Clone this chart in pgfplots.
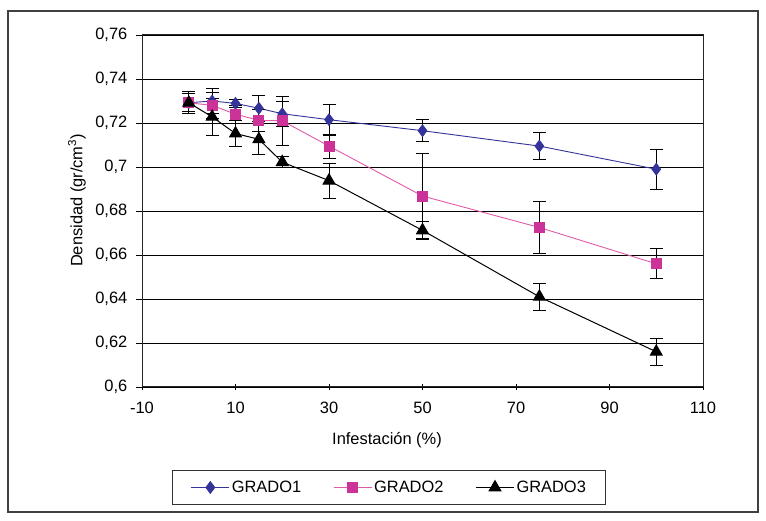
\documentclass[border=0pt]{standalone}
\usepackage{fontspec}
\setmainfont{Liberation Sans}
\usepackage{pgfplots}
\usepackage{pgfplotstable}
\pgfplotsset{compat=1.18}

\definecolor{gradoA}{HTML}{333399}
\definecolor{gradoB}{HTML}{CC3399}
\definecolor{gradoBline}{HTML}{E05AA8}

% x, densidad, desviacion
\pgfplotstableread{
x y e
0   0.7292 0.005
5   0.7300 0.0056
10  0.7289 0.002
15  0.7267 0.006
20  0.7242 0.0057
30  0.7215 0.007
50  0.7165 0.005
75  0.7095 0.006
100 0.6990 0.009
}\gradoone
\pgfplotstableread{
x y e
0   0.7292 0.004
5   0.7280 0.006
10  0.7240 0.004
15  0.7212 0.005
20  0.7210 0.011
30  0.7095 0.0055
50  0.6868 0.0195
75  0.6725 0.012
100 0.6560 0.0068
}\gradotwo
\pgfplotstableread{
x y e
0   0.7292 0.005
5   0.7228 0.0085
10  0.7152 0.006
15  0.7126 0.007
20  0.7022 0.0025
30  0.6938 0.008
50  0.6712 0.004
75  0.6410 0.0062
100 0.6160 0.006
}\gradothree

\begin{document}
\fontsize{16.5}{19}\selectfont
\begin{tikzpicture}[x=1bp,y=1bp]
\useasboundingbox (0,0) rectangle (766,521);
\draw[line width=1.3bp, black!75] (8,9) rectangle (758,510);
\begin{axis}[
    at={(142bp,134bp)}, anchor=south west,
    scale only axis, width=561bp, height=352bp,
    xmin=-10, xmax=110, ymin=0.6, ymax=0.76,
    xtick={-10,10,30,50,70,90,110},
    xticklabels={-10,10,30,50,70,90,110},
    ytick={0.6,0.62,0.64,0.66,0.68,0.7,0.72,0.74,0.76},
    yticklabels={{0,6},{0,62},{0,64},{0,66},{0,68},{0,7},{0,72},{0,74},{0,76}},
    xtick pos=bottom, ytick pos=left,
    xtick align=center, ytick align=outside,
    major tick length=6bp,
    tick style={black, line width=0.9bp},
    axis line style={black!85, line width=1bp},
    ymajorgrids, grid style={black, line width=0.9bp},
    tick label style={font=\fontsize{16.5}{19}\selectfont},
    xticklabel style={yshift=-6bp},
    yticklabel style={xshift=-3bp},
    xlabel={Infestación (\%)},
    ylabel={Densidad (gr/cm\textsuperscript{3})},
    label style={font=\fontsize{16.5}{19}\selectfont},
    xlabel style={at={(axis description cs:0.4367,-0.152)}, anchor=center},
    ylabel style={at={(axis description cs:-0.116,0.53)}, anchor=center},
    legend columns=3,
    legend style={at={(0.441,-0.2855)}, anchor=center,
        draw=black!80, line width=1bp, font=\fontsize{16.5}{19}\selectfont,
        /tikz/every even column/.append style={column sep=30bp},
        inner xsep=18bp, inner ysep=8bp},
    legend image code/.code={
        \draw[mark repeat=2, mark phase=2, #1]
        plot coordinates {(0bp,0bp) (19bp,0bp) (38bp,0bp)};},
    error bars/error bar style={black, line width=0.9bp},
    error bars/error mark options={rotate=90, mark size=6.5bp, black, line width=0.9bp},
]
\addplot[gradoA, line width=0.9bp, mark=diamond*, mark size=5.8bp,
    mark options={fill=gradoA, draw=gradoA},
    error bars/.cd, y dir=both, y explicit]
    table[x=x, y=y, y error=e] {\gradoone};
\addlegendentry{GRADO1}
\addplot[gradoBline, line width=0.9bp, mark=square*, mark size=5bp,
    mark options={fill=gradoB, draw=gradoB},
    error bars/.cd, y dir=both, y explicit]
    table[x=x, y=y, y error=e] {\gradotwo};
\addlegendentry{GRADO2}
\addplot[black, line width=1bp, mark=triangle*, mark size=6.8bp,
    mark options={fill=black, draw=black},
    error bars/.cd, y dir=both, y explicit]
    table[x=x, y=y, y error=e] {\gradothree};
\addlegendentry{GRADO3}
\end{axis}
\end{tikzpicture}
\end{document}
